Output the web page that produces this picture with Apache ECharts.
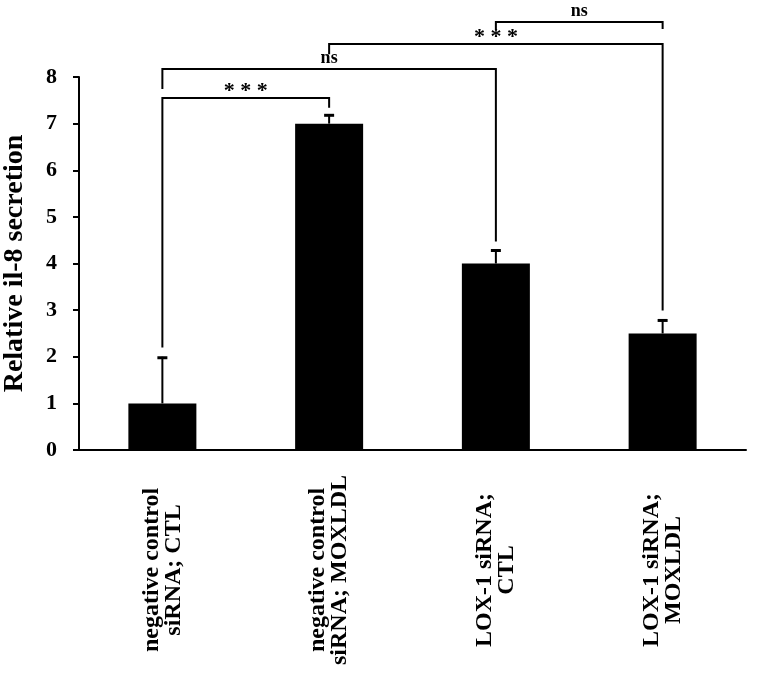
<!DOCTYPE html>
<html>
<head>
<meta charset="utf-8">
<script src="https://cdn.jsdelivr.net/npm/echarts@6/dist/echarts.min.js"></script>
<style>html,body{margin:0;padding:0;background:#fff}#c{width:763px;height:677px}</style>
</head>
<body>
<div id="c"></div>
<script>
// Data
var categories = ['negative control\nsiRNA; CTL', 'negative control\nsiRNA; MOXLDL', 'LOX-1 siRNA;\nCTL', 'LOX-1 siRNA;\nMOXLDL'];
var values = [1.0, 7.0, 4.0, 2.5];
var errors = [1.0, 0.2, 0.3, 0.3];
var yTicks = [0, 1, 2, 3, 4, 5, 6, 7, 8];
// brackets: [fromIndex, toIndex, topY, leftEndY, rightEndY, label]
var brackets = [
  [0, 1, 7.55, 2.2, 7.34, '***'],
  [0, 2, 8.17, 7.74, 4.47, 'ns'],
  [1, 3, 8.71, 8.49, 2.99, '***'],
  [2, 3, 9.18, 9.03, 9.03, 'ns']
];

var FONT = 'Liberation Serif';
var chart = echarts.init(document.getElementById('c'), null, {renderer: 'canvas'});

var errData = values.map(function (v, i) { return [i, v, errors[i]]; });

chart.setOption({
  animation: false,
  grid: {left: 79, right: 17, top: 77, bottom: 227, containLabel: false, outerBoundsMode: 'none'},
  xAxis: {
    type: 'category',
    data: categories,
    axisLine: {lineStyle: {color: '#000', width: 2}},
    axisTick: {show: false},
    axisLabel: {
      interval: 0,
      rotate: 90,
      align: 'center',
      verticalAlign: 'middle',
      margin: 120,
      color: '#000',
      fontFamily: FONT,
      fontWeight: 'bold',
      fontSize: 24,
      lineHeight: 22
    }
  },
  yAxis: {
    type: 'value',
    min: yTicks[0],
    max: yTicks[yTicks.length - 1],
    interval: 1,
    name: 'Relative il-8 secretion',
    nameLocation: 'middle',
    nameGap: 50,
    nameTextStyle: {color: '#000', fontFamily: FONT, fontWeight: 'bold', fontSize: 28},
    axisLine: {show: true, lineStyle: {color: '#000', width: 2}},
    axisTick: {show: true, inside: false, length: 6, lineStyle: {color: '#000', width: 2}},
    splitLine: {show: false},
    axisLabel: {color: '#000', fontFamily: FONT, fontWeight: 'bold', fontSize: 22, margin: 22}
  },
  series: [
    {
      type: 'bar',
      data: values,
      barWidth: 68,
      itemStyle: {color: '#000'},
      z: 2
    },
    {
      type: 'custom',
      data: errData,
      clip: false,
      z: 3,
      renderItem: function (params, api) {
        var x = api.value(0), v = api.value(1), e = api.value(2);
        var p0 = api.coord([x, v]);
        var p1 = api.coord([x, v + e]);
        return {
          type: 'group',
          children: [
            {type: 'line', shape: {x1: p0[0], y1: p0[1], x2: p1[0], y2: p1[1]}, style: {stroke: '#000', lineWidth: 2}},
            {type: 'line', shape: {x1: p1[0] - 5, y1: p1[1] + 1, x2: p1[0] + 5, y2: p1[1] + 1}, style: {stroke: '#000', lineWidth: 3}}
          ]
        };
      }
    },
    {
      type: 'custom',
      data: brackets.map(function (b) { return b.slice(0, 5); }),
      clip: false,
      z: 4,
      renderItem: function (params, api) {
        var b = brackets[params.dataIndex];
        var pl = api.coord([b[0], b[2]]);
        var pr = api.coord([b[1], b[2]]);
        var ll = api.coord([b[0], b[3]]);
        var rr = api.coord([b[1], b[4]]);
        var isStar = b[5] === '***';
        return {
          type: 'group',
          children: [
            {type: 'polyline', shape: {points: [[ll[0], ll[1]], [pl[0], pl[1]], [pr[0], pr[1]], [rr[0], rr[1]]]},
             style: {stroke: '#000', lineWidth: 2, fill: null}},
            {type: 'text', x: (pl[0] + pr[0]) / 2, y: pl[1] + (isStar ? 4 : -2),
             style: {text: isStar ? '* * *' : b[5], fill: '#000', font: 'bold ' + (isStar ? 22 : 18) + 'px "' + FONT + '"',
                     textAlign: 'center', textVerticalAlign: 'bottom'}}
          ]
        };
      }
    }
  ]
});
</script>
</body>
</html>
